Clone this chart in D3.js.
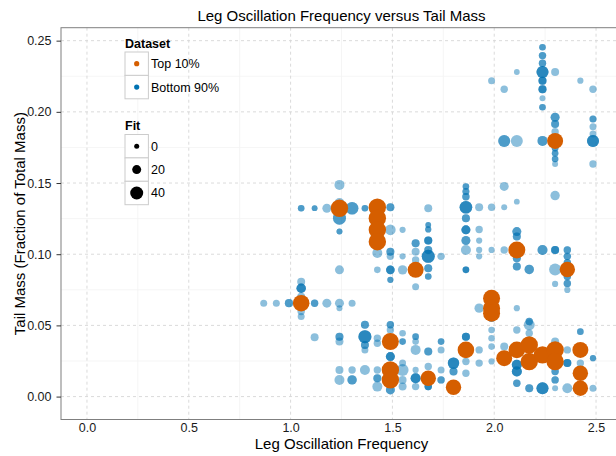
<!DOCTYPE html>
<html>
<head>
<meta charset="utf-8">
<script src="https://cdn.jsdelivr.net/npm/d3@7"></script>
<style>
  body { margin: 0; background: #fff; }
  text { font-family: "Liberation Sans", Arial, Helvetica, sans-serif; }
</style>
</head>
<body>
<script>
// Data: [leg frequency, tail mass, fit, overlapping copies]
const top10 = [
  [1.052, 0.0656, 58], [1.240, 0.1323, 62],
  [1.426, 0.1330, 62], [1.426, 0.1253, 62], [1.426, 0.1171, 62], [1.426, 0.1088, 62],
  [1.490, 0.0386, 60], [1.490, 0.0187, 62], [1.490, 0.0117, 62],
  [1.614, 0.0890, 55], [1.676, 0.0129, 52], [1.800, 0.0066, 52], [1.861, 0.0328, 58],
  [1.987, 0.0691, 60], [1.987, 0.0621, 60], [1.987, 0.0586, 60],
  [2.049, 0.0270, 55], [2.111, 0.1030, 60], [2.111, 0.0328, 58],
  [2.172, 0.0363, 62], [2.172, 0.0246, 62], [2.237, 0.0293, 62],
  [2.299, 0.1796, 55], [2.299, 0.0328, 62], [2.299, 0.0246, 62],
  [2.359, 0.0893, 52], [2.423, 0.0328, 55], [2.423, 0.0164, 52], [2.423, 0.0059, 52]
];

const bottom90 = [
  [0.868, 0.0656, 10], [0.930, 0.0656, 10], [0.992, 0.0656, 16, 2],
  [1.052, 0.1323, 8, 2], [1.052, 0.0807, 15], [1.052, 0.0761, 22, 3], [1.052, 0.0702, 15],
  [1.052, 0.0597, 12], [1.052, 0.0562, 10],
  [1.118, 0.1323, 4, 2], [1.118, 0.0656, 12, 2], [1.118, 0.0417, 15],
  [1.178, 0.1323, 20], [1.178, 0.0656, 20],
  [1.240, 0.1487, 25], [1.240, 0.1360, 25], [1.240, 0.1253, 40, 2], [1.240, 0.1159, 5, 2],
  [1.240, 0.0890, 20], [1.240, 0.0656, 20], [1.240, 0.0621, 5], [1.240, 0.0421, 15, 2],
  [1.240, 0.0386, 15], [1.240, 0.0187, 15], [1.240, 0.0117, 25],
  [1.302, 0.1323, 38, 2], [1.302, 0.0656, 10], [1.302, 0.0187, 12], [1.302, 0.0117, 22, 2],
  [1.365, 0.1323, 8, 2], [1.365, 0.0504, 15, 2], [1.365, 0.0421, 40, 3], [1.365, 0.0363, 15, 2],
  [1.365, 0.0328, 10], [1.365, 0.0187, 25],
  [1.426, 0.1009, 25], [1.426, 0.0890, 8], [1.426, 0.0410, 12], [1.426, 0.0375, 12],
  [1.426, 0.0187, 12], [1.426, 0.0129, 15, 2], [1.426, 0.0070, 25],
  [1.490, 0.1330, 15, 2], [1.490, 0.1171, 28], [1.490, 0.1018, 15, 2], [1.490, 0.0985, 12],
  [1.490, 0.0890, 18, 3], [1.490, 0.0820, 6, 2], [1.490, 0.0504, 12, 2], [1.490, 0.0468, 12],
  [1.490, 0.0281, 20, 3], [1.490, 0.0047, 20, 2],
  [1.550, 0.1171, 6], [1.550, 0.0985, 6], [1.550, 0.0890, 22], [1.550, 0.0445, 8],
  [1.550, 0.0386, 8, 2], [1.550, 0.0235, 10], [1.550, 0.0187, 35], [1.550, 0.0117, 15],
  [1.550, 0.0070, 15],
  [1.614, 0.1077, 15, 2], [1.614, 0.1018, 15], [1.614, 0.0960, 12], [1.614, 0.0772, 10],
  [1.614, 0.0421, 8, 2], [1.614, 0.0386, 8], [1.614, 0.0328, 25], [1.614, 0.0187, 6],
  [1.614, 0.0129, 25, 3], [1.614, 0.0070, 12],
  [1.676, 0.1323, 15], [1.676, 0.1206, 4, 2], [1.676, 0.1174, 6, 2], [1.676, 0.1096, 15, 3],
  [1.676, 0.1030, 15, 2], [1.676, 0.0985, 40, 3], [1.676, 0.0902, 15, 2], [1.676, 0.0843, 8, 2],
  [1.676, 0.0316, 15, 2], [1.676, 0.0211, 12], [1.676, 0.0070, 12, 3],
  [1.739, 0.0985, 12], [1.739, 0.0386, 8, 2], [1.739, 0.0328, 10], [1.739, 0.0187, 10],
  [1.739, 0.0117, 12, 2],
  [1.800, 0.0235, 32, 3], [1.800, 0.0176, 15, 2],
  [1.861, 0.1476, 8, 2], [1.861, 0.1440, 10, 2], [1.861, 0.1404, 12, 2], [1.861, 0.1330, 38, 3],
  [1.861, 0.1253, 15, 2], [1.861, 0.1171, 20, 3], [1.861, 0.1096, 20, 2], [1.861, 0.1030, 25],
  [1.861, 0.0890, 8, 3], [1.861, 0.0421, 15, 3], [1.861, 0.0246, 12], [1.861, 0.0164, 12],
  [1.926, 0.1330, 15], [1.926, 0.1174, 12], [1.926, 0.1096, 6], [1.926, 0.1030, 6],
  [1.926, 0.0985, 6], [1.926, 0.0621, 22], [1.926, 0.0328, 12], [1.926, 0.0235, 12],
  [1.987, 0.2219, 10], [1.987, 0.1330, 12], [1.987, 0.1030, 6], [1.987, 0.0551, 12, 2],
  [1.987, 0.0468, 8], [1.987, 0.0410, 8], [1.987, 0.0351, 8], [1.987, 0.0247, 6],
  [2.049, 0.2159, 12], [2.049, 0.1796, 35, 2], [2.049, 0.1476, 20], [2.049, 0.1330, 5],
  [2.049, 0.1030, 12], [2.049, 0.0351, 15],
  [2.111, 0.2280, 4], [2.111, 0.1796, 35], [2.111, 0.1369, 4], [2.111, 0.1159, 20, 2],
  [2.111, 0.1124, 15, 2], [2.111, 0.0972, 15, 2], [2.111, 0.0913, 15, 2], [2.111, 0.0621, 6],
  [2.111, 0.0468, 12], [2.111, 0.0223, 25, 3], [2.111, 0.0176, 25, 3], [2.111, 0.0094, 12, 2],
  [2.172, 0.0893, 22, 2], [2.172, 0.0527, 12, 2], [2.172, 0.0504, 30], [2.172, 0.0445, 12],
  [2.172, 0.0059, 15, 2],
  [2.237, 0.2454, 8, 2], [2.237, 0.2395, 12, 2], [2.237, 0.2341, 12, 2], [2.237, 0.2280, 35, 3],
  [2.237, 0.2219, 15, 3], [2.237, 0.2159, 15, 3], [2.237, 0.2096, 5], [2.237, 0.2032, 8, 2],
  [2.237, 0.1796, 25, 2], [2.237, 0.1030, 25, 2], [2.237, 0.0059, 35, 3],
  [2.299, 0.2280, 15], [2.299, 0.1962, 20, 2], [2.299, 0.1915, 15, 2], [2.299, 0.1861, 12],
  [2.299, 0.1744, 8, 2], [2.299, 0.1709, 8, 2], [2.299, 0.1669, 8, 2], [2.299, 0.1634, 5],
  [2.299, 0.1412, 22], [2.299, 0.1030, 15, 3], [2.299, 0.0893, 35], [2.299, 0.0791, 6],
  [2.299, 0.0386, 15], [2.299, 0.0176, 12, 2], [2.299, 0.0117, 12, 2], [2.299, 0.0059, 5],
  [2.359, 0.1030, 12, 2], [2.359, 0.0985, 12, 2], [2.359, 0.0940, 12, 2], [2.359, 0.0843, 12, 2],
  [2.359, 0.0795, 12, 2], [2.359, 0.0749, 6], [2.359, 0.0328, 12], [2.359, 0.0235, 15, 3],
  [2.359, 0.0059, 25],
  [2.423, 0.2219, 6], [2.423, 0.0456, 8, 2], [2.423, 0.0235, 12],
  [2.485, 0.2159, 12], [2.485, 0.1950, 10, 2], [2.485, 0.1896, 10], [2.485, 0.1845, 10],
  [2.485, 0.1796, 35, 3], [2.485, 0.1634, 12], [2.485, 0.0270, 6, 2], [2.485, 0.0059, 10]
];

const xTicks = [0, 0.5, 1, 1.5, 2, 2.5];
const xMinor = [0.25, 0.75, 1.25, 1.75, 2.25];
const yTicks = [0, 0.05, 0.10, 0.15, 0.20, 0.25];
const yMinor = [0.025, 0.075, 0.125, 0.175, 0.225];
const datasets = ['Top 10%', 'Bottom 90%'];
const fitBreaks = [0, 20, 40];

const orange = '#D55E00', blue = '#0072B2';

const svg = d3.select('body').append('svg')
  .attr('width', 616)
  .attr('height', 456);

// panel in pixels (the right edge runs past the picture, as in the reference)
const panel = { left: 61, right: 622, top: 27.7, bottom: 419.5 };

const x = d3.scaleLinear().domain([-0.1275, 2.6275]).range([panel.left, panel.right]);
const y = d3.scaleLinear().domain([-0.0161, 0.2591]).range([panel.bottom, panel.top]);
const r = d3.scaleLinear().domain([0, 40]).range([2.5, 6.5]);

svg.append('defs').append('clipPath').attr('id', 'clip')
  .append('rect')
  .attr('x', panel.left).attr('y', panel.top)
  .attr('width', panel.right - panel.left).attr('height', panel.bottom - panel.top);

// grid
const grid = svg.append('g');
grid.selectAll('.xminor').data(xMinor).enter().append('line')
  .attr('x1', d => x(d)).attr('x2', d => x(d))
  .attr('y1', panel.top).attr('y2', panel.bottom)
  .attr('stroke', '#f2f2f2').attr('stroke-width', 0.8);
grid.selectAll('.yminor').data(yMinor).enter().append('line')
  .attr('x1', panel.left).attr('x2', panel.right)
  .attr('y1', d => y(d)).attr('y2', d => y(d))
  .attr('stroke', '#f2f2f2').attr('stroke-width', 0.8);
grid.selectAll('.xmajor').data(xTicks).enter().append('line')
  .attr('x1', d => x(d)).attr('x2', d => x(d))
  .attr('y1', panel.top).attr('y2', panel.bottom)
  .attr('stroke', '#d6d6d6').attr('stroke-width', 0.9).attr('stroke-dasharray', '3,3');
grid.selectAll('.ymajor').data(yTicks).enter().append('line')
  .attr('x1', panel.left).attr('x2', panel.right)
  .attr('y1', d => y(d)).attr('y2', d => y(d))
  .attr('stroke', '#d6d6d6').attr('stroke-width', 0.9).attr('stroke-dasharray', '3,3');

// points
const pts = svg.append('g').attr('clip-path', 'url(#clip)');
const blueRows = bottom90.flatMap(d => d3.range(d[3] || 1).map(() => d));
pts.selectAll('.blue').data(blueRows).enter().append('circle')
  .attr('cx', d => x(d[0]))
  .attr('cy', d => y(d[1]))
  .attr('r', d => r(d[2]))
  .attr('fill', blue)
  .attr('opacity', 0.45);
pts.selectAll('.top').data(top10).enter().append('circle')
  .attr('cx', d => x(d[0]))
  .attr('cy', d => y(d[1]))
  .attr('r', d => r(d[2]))
  .attr('fill', orange);

// border
svg.append('rect')
  .attr('x', panel.left).attr('y', panel.top)
  .attr('width', panel.right - panel.left).attr('height', panel.bottom - panel.top)
  .attr('fill', 'none').attr('stroke', '#7f7f7f').attr('stroke-width', 1);

// axes
const yAxis = svg.append('g')
  .attr('transform', `translate(${panel.left},0)`)
  .call(d3.axisLeft(y).tickValues(yTicks).tickFormat(d3.format('.2f')).tickSize(4.5).tickPadding(5));
yAxis.select('.domain').remove();
yAxis.selectAll('line').attr('stroke', '#333');
yAxis.selectAll('text').attr('font-size', 12.5).attr('fill', '#1a1a1a')
  .style('font-family', '"Liberation Sans", Arial, sans-serif');

const xAxis = svg.append('g')
  .attr('transform', `translate(0,${panel.bottom})`)
  .call(d3.axisBottom(x).tickValues(xTicks).tickFormat(d3.format('.1f')).tickSize(0).tickPadding(4));
xAxis.select('.domain').remove();
xAxis.selectAll('text').attr('font-size', 12.5).attr('fill', '#1a1a1a')
  .style('font-family', '"Liberation Sans", Arial, sans-serif');

// titles
const midX = (panel.left + panel.right) / 2;
svg.append('text')
  .attr('x', midX).attr('y', 20.5)
  .attr('text-anchor', 'middle')
  .attr('font-size', 15)
  .text('Leg Oscillation Frequency versus Tail Mass');
svg.append('text')
  .attr('x', midX).attr('y', 449)
  .attr('text-anchor', 'middle')
  .attr('font-size', 15)
  .text('Leg Oscillation Frequency');
svg.append('text')
  .attr('transform', `translate(25,${(panel.top + panel.bottom) / 2}) rotate(-90)`)
  .attr('text-anchor', 'middle')
  .attr('font-size', 15)
  .text('Tail Mass (Fraction of Total Mass)');

// legends
const key = 23.4, keyX = 125, labelX = 151;
const leg = svg.append('g');
leg.append('text').attr('x', keyX).attr('y', 47.5)
  .attr('font-size', 12.5).attr('font-weight', 'bold').text('Dataset');
const dsKeys = leg.selectAll('.ds').data(datasets).enter().append('g')
  .attr('transform', (d, i) => `translate(${keyX},${52 + i * key})`);
dsKeys.append('rect').attr('width', key).attr('height', key)
  .attr('fill', '#fff').attr('stroke', '#cccccc').attr('stroke-width', 1);
dsKeys.append('circle').attr('cx', key / 2).attr('cy', key / 2).attr('r', 2.6)
  .attr('fill', (d, i) => i === 0 ? orange : blue);
dsKeys.append('text').attr('x', labelX - keyX).attr('y', key / 2).attr('dy', '0.36em')
  .attr('font-size', 12.5).text(d => d);

leg.append('text').attr('x', keyX).attr('y', 130)
  .attr('font-size', 12.5).attr('font-weight', 'bold').text('Fit');
const fitKeys = leg.selectAll('.fit').data(fitBreaks).enter().append('g')
  .attr('transform', (d, i) => `translate(${keyX},${134.5 + i * key})`);
fitKeys.append('rect').attr('width', key).attr('height', key)
  .attr('fill', '#fff').attr('stroke', '#cccccc').attr('stroke-width', 1);
fitKeys.append('circle').attr('cx', key / 2).attr('cy', key / 2).attr('r', d => r(d))
  .attr('fill', '#000');
fitKeys.append('text').attr('x', labelX - keyX).attr('y', key / 2).attr('dy', '0.36em')
  .attr('font-size', 12.5).text(d => d);
</script>
</body>
</html>
